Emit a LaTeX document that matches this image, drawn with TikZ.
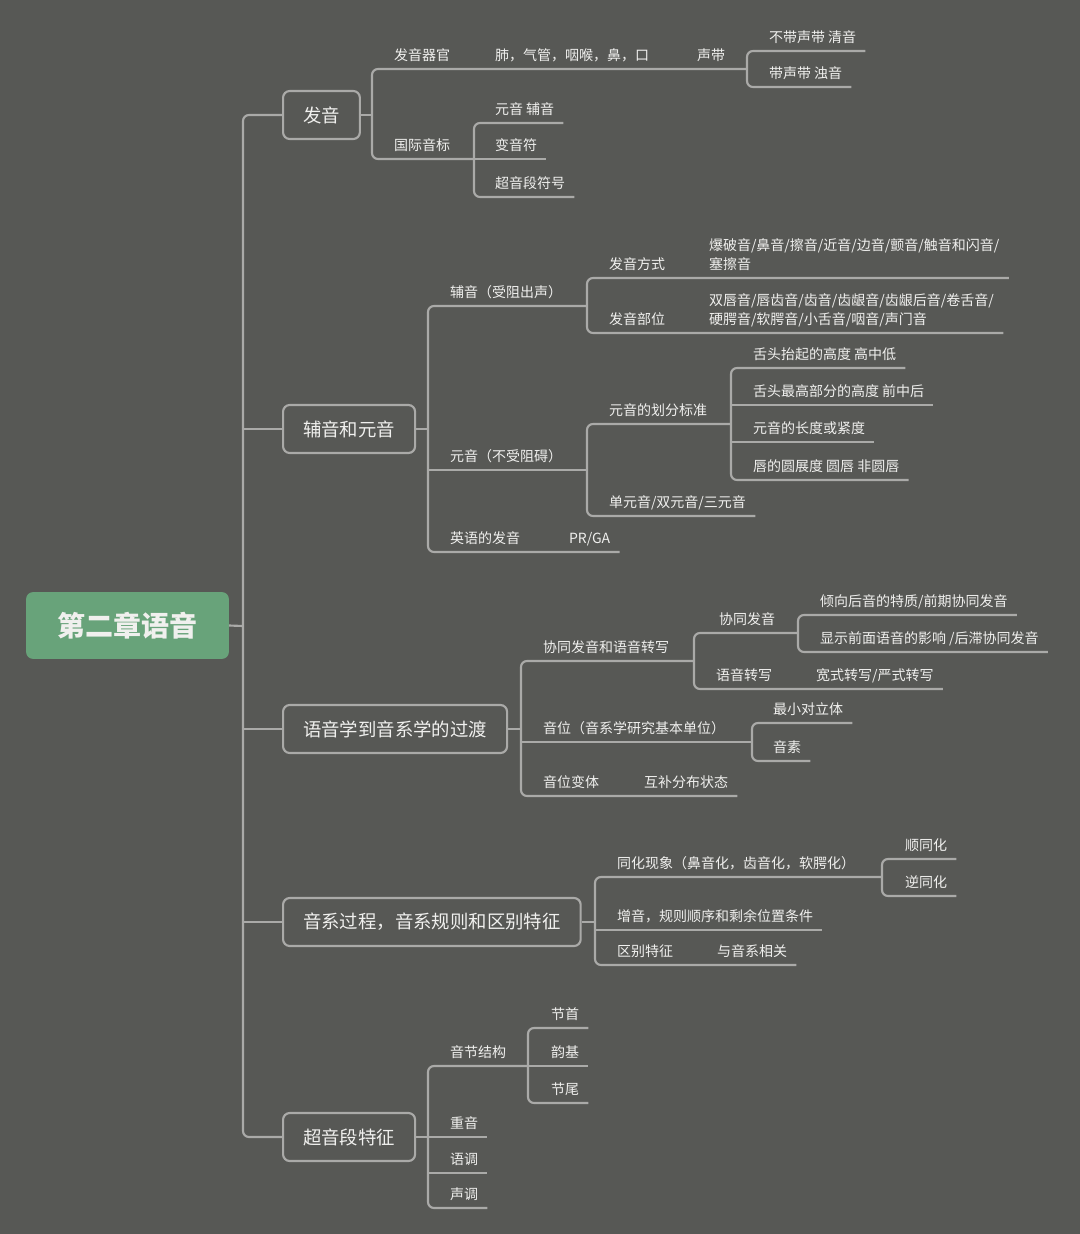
\documentclass[tikz,border=0pt]{standalone}
\usepackage{fontspec}
\setmainfont{Noto Sans CJK SC}
\usetikzlibrary{positioning}

\definecolor{canvas}{RGB}{87,88,85}
\definecolor{wire}{RGB}{170,170,168}
\definecolor{ink}{RGB}{240,240,238}
\definecolor{rootgreen}{RGB}{104,163,122}

\tikzset{
  link/.style={draw=wire, line width=1.6pt, rounded corners=4.5pt},
  rootbox/.style={fill=rootgreen, rounded corners=5pt, text=ink,
    font=\fontsize{21}{25}\selectfont\bfseries, minimum width=152pt, minimum height=50pt},
  topic/.style={draw=wire, line width=1.6pt, rounded corners=5pt, text=ink, anchor=west,
    font=\fontsize{13.8}{16}\selectfont, inner xsep=15pt, minimum height=36pt},
  leaf/.style={anchor=south west, text=ink, font=\fontsize{10.5}{14.25}\selectfont,
    inner xsep=0pt, inner ysep=6.5pt, outer xsep=7pt, outer ysep=0pt, xshift=-7pt, text depth=0pt},
  wrap/.style={anchor=west, align=left, text=ink, font=\fontsize{10.5}{14.25}\selectfont,
    inner sep=0pt, outer xsep=7pt, xshift=-7pt},
}

\begin{document}
\begin{tikzpicture}[x=0.75pt, y=-0.75pt]
  \useasboundingbox (0,0) rectangle (1080,1234);
  \fill[canvas] (0,0) rectangle (1080,1234);

  % Centre et tronc
  \node[rootbox] (root) at (127.5,625.5) {第二章语音};
  \node[topic] (fayin) at (282,115) {发音};
  \node[topic] (fuyuan) at (282,429) {辅音和元音};
  \node[topic] (guodu) at (282,729) {语音学到音系学的过渡};
  \node[topic] (yinxi) at (282,922) {音系过程，音系规则和区别特征};
  \node[topic] (chaoyin) at (282,1137) {超音段特征};
  \coordinate (trunk) at (243,626);
  \draw[link] (root.east) -- (trunk);
  \draw[link] (fayin.west) -- (trunk |- fayin.west) -- (trunk |- chaoyin.west) -- (chaoyin.west);
  \foreach \t in {fuyuan, guodu, yinxi}
    \draw[link] (trunk |- \t.west) -- (\t.west);

  % Fayin
  \coordinate (fayin-b) at (372,115);
  \node[leaf] (qiguan) at (394,69) {发音器官};
  \node[leaf] (qiguan-list) at (495,69) {肺，气管，咽喉，鼻，口};
  \node[leaf] (shengdai) at (697,69) {声带};
  \coordinate (shengdai-b) at (747,69);
  \node[leaf] (qingyin) at (769,51) {不带声带 清音};
  \node[leaf] (zhuoyin) at (769,87) {带声带 浊音};
  \node[leaf] (yinbiao) at (394,159) {国际音标};
  \coordinate (yinbiao-b) at (474,159);
  \node[leaf] (yuanfu) at (495,123) {元音 辅音};
  \node[leaf] (bianyin) at (495,159) {变音符};
  \node[leaf] (chaoduan) at (495,197) {超音段符号};
  \draw[link] (fayin.east) -- (fayin-b);
  \draw[link] (shengdai-b) -- (fayin-b |- qiguan.south) -- (fayin-b |- yinbiao.south) -- (yinbiao-b);
  \draw[link] (qingyin.south east) -- (shengdai-b |- qingyin.south) -- (shengdai-b |- zhuoyin.south) -- (zhuoyin.south east);
  \draw[link] (yuanfu.south east) -- (yinbiao-b |- yuanfu.south) -- (yinbiao-b |- chaoduan.south) -- (chaoduan.south east);
  \draw[link] (yinbiao-b) -- (bianyin.south east);

  % Fuyin et yuanyin
  \coordinate (fuyuan-b) at (428,429);
  \node[leaf] (fuyin) at (450,306) {辅音（受阻出声）};
  \coordinate (fuyin-b) at (587,306);
  \node[leaf] (fangshi) at (609,278) {发音方式};
  \node[wrap] (fangshi-list) at (709,254.5) {爆破音/鼻音/擦音/近音/边音/颤音/触音和闪音/\\塞擦音};
  \node[leaf] (buwei) at (609,333) {发音部位};
  \node[wrap] (buwei-list) at (709,310) {双唇音/唇齿音/齿音/齿龈音/齿龈后音/卷舌音/\\硬腭音/软腭音/小舌音/咽音/声门音};
  \node[leaf] (yuanyin) at (450,470) {元音（不受阻碍）};
  \coordinate (yuanyin-b) at (587,470);
  \node[leaf] (biaozhun) at (609,424) {元音的划分标准};
  \coordinate (biaozhun-b) at (731,424);
  \node[leaf] (gaodu) at (753,368) {舌头抬起的高度 高中低};
  \node[leaf] (qianhou) at (753,405) {舌头最高部分的高度 前中后};
  \node[leaf] (changdu) at (753,442) {元音的长度或紧度};
  \node[leaf] (chunzhan) at (753,480) {唇的圆展度 圆唇 非圆唇};
  \node[leaf] (danyuan) at (609,516) {单元音/双元音/三元音};
  \node[leaf] (yingyu) at (450,552) {英语的发音};
  \node[leaf] (prga) at (569,552) {PR/GA};
  \draw[link] (fuyuan.east) -- (fuyuan-b);
  \draw[link] (fuyin-b) -- (fuyuan-b |- fuyin.south) -- (fuyuan-b |- yingyu.south) -- (prga.south east);
  \draw[link] (fuyuan-b |- yuanyin.south) -- (yuanyin-b);
  \draw[link] (fangshi-list.east |- fangshi.south) -- (fuyin-b |- fangshi.south) -- (fuyin-b |- buwei.south) -- (buwei-list.east |- buwei.south);
  \draw[link] (biaozhun-b) -- (yuanyin-b |- biaozhun.south) -- (yuanyin-b |- danyuan.south) -- (danyuan.south east);
  \draw[link] (gaodu.south east) -- (biaozhun-b |- gaodu.south) -- (biaozhun-b |- chunzhan.south) -- (chunzhan.south east);
  \foreach \n in {qianhou, changdu}
    \draw[link] (biaozhun-b |- \n.south) -- (\n.south east);

  % Guodu
  \coordinate (guodu-b) at (521,729);
  \node[leaf] (xtzx) at (543,661) {协同发音和语音转写};
  \coordinate (xtzx-b) at (694,661);
  \node[leaf] (xtfy) at (719,633) {协同发音};
  \coordinate (xtfy-b) at (798,633);
  \node[leaf] (qianqi) at (820,615) {倾向后音的特质/前期协同发音};
  \node[leaf] (houzhi) at (820,652) {显示前面语音的影响 /后滞协同发音};
  \node[leaf] (zhuanxie) at (716,689) {语音转写};
  \node[leaf] (kuanyan) at (816,689) {宽式转写/严式转写};
  \node[leaf] (yinwei) at (543,742) {音位（音系学研究基本单位）};
  \coordinate (yinwei-b) at (752,742);
  \node[leaf] (duili) at (773,723) {最小对立体};
  \node[leaf] (yinsu) at (773,761) {音素};
  \node[leaf] (bianti) at (543,796) {音位变体};
  \node[leaf] (hubu) at (644,796) {互补分布状态};
  \draw[link] (guodu.east) -- (guodu-b);
  \draw[link] (xtzx-b) -- (guodu-b |- xtzx.south) -- (guodu-b |- bianti.south) -- (hubu.south east);
  \draw[link] (guodu-b |- yinwei.south) -- (yinwei-b);
  \draw[link] (xtfy-b) -- (xtzx-b |- xtfy.south) -- (xtzx-b |- zhuanxie.south) -- (kuanyan.south east);
  \draw[link] (qianqi.south east) -- (xtfy-b |- qianqi.south) -- (xtfy-b |- houzhi.south) -- (houzhi.south east);
  \draw[link] (duili.south east) -- (yinwei-b |- duili.south) -- (yinwei-b |- yinsu.south) -- (yinsu.south east);

  % Yinxi guocheng
  \coordinate (yinxi-b) at (595,922);
  \node[leaf] (tonghua) at (617,877) {同化现象（鼻音化，齿音化，软腭化）};
  \coordinate (tonghua-b) at (882,877);
  \node[leaf] (shun) at (905,859) {顺同化};
  \node[leaf] (ni) at (905,896) {逆同化};
  \node[leaf] (zengyin) at (617,930) {增音，规则顺序和剩余位置条件};
  \node[leaf] (qubie) at (617,965) {区别特征};
  \node[leaf] (xiangguan) at (717,965) {与音系相关};
  \draw[link] (yinxi.east) -- (yinxi-b);
  \draw[link] (tonghua-b) -- (yinxi-b |- tonghua.south) -- (yinxi-b |- qubie.south) -- (xiangguan.south east);
  \draw[link] (yinxi-b |- zengyin.south) -- (zengyin.south east);
  \draw[link] (shun.south east) -- (tonghua-b |- shun.south) -- (tonghua-b |- ni.south) -- (ni.south east);

  % Chaoyinduan
  \coordinate (chaoyin-b) at (428,1137);
  \node[leaf] (jiegou) at (450,1066) {音节结构};
  \coordinate (jiegou-b) at (528,1066);
  \node[leaf] (jieshou) at (551,1028) {节首};
  \node[leaf] (yunji) at (551,1066) {韵基};
  \node[leaf] (jiewei) at (551,1103) {节尾};
  \node[leaf] (zhongyin) at (450,1137) {重音};
  \node[leaf] (yudiao) at (450,1173) {语调};
  \node[leaf] (shengdiao) at (450,1208) {声调};
  \draw[link] (chaoyin.east) -- (chaoyin-b);
  \draw[link] (jiegou-b) -- (chaoyin-b |- jiegou.south) -- (chaoyin-b |- shengdiao.south) -- (shengdiao.south east);
  \foreach \n in {zhongyin, yudiao}
    \draw[link] (chaoyin-b |- \n.south) -- (\n.south east);
  \draw[link] (jieshou.south east) -- (jiegou-b |- jieshou.south) -- (jiegou-b |- jiewei.south) -- (jiewei.south east);
  \draw[link] (jiegou-b) -- (yunji.south east);
\end{tikzpicture}
\end{document}
